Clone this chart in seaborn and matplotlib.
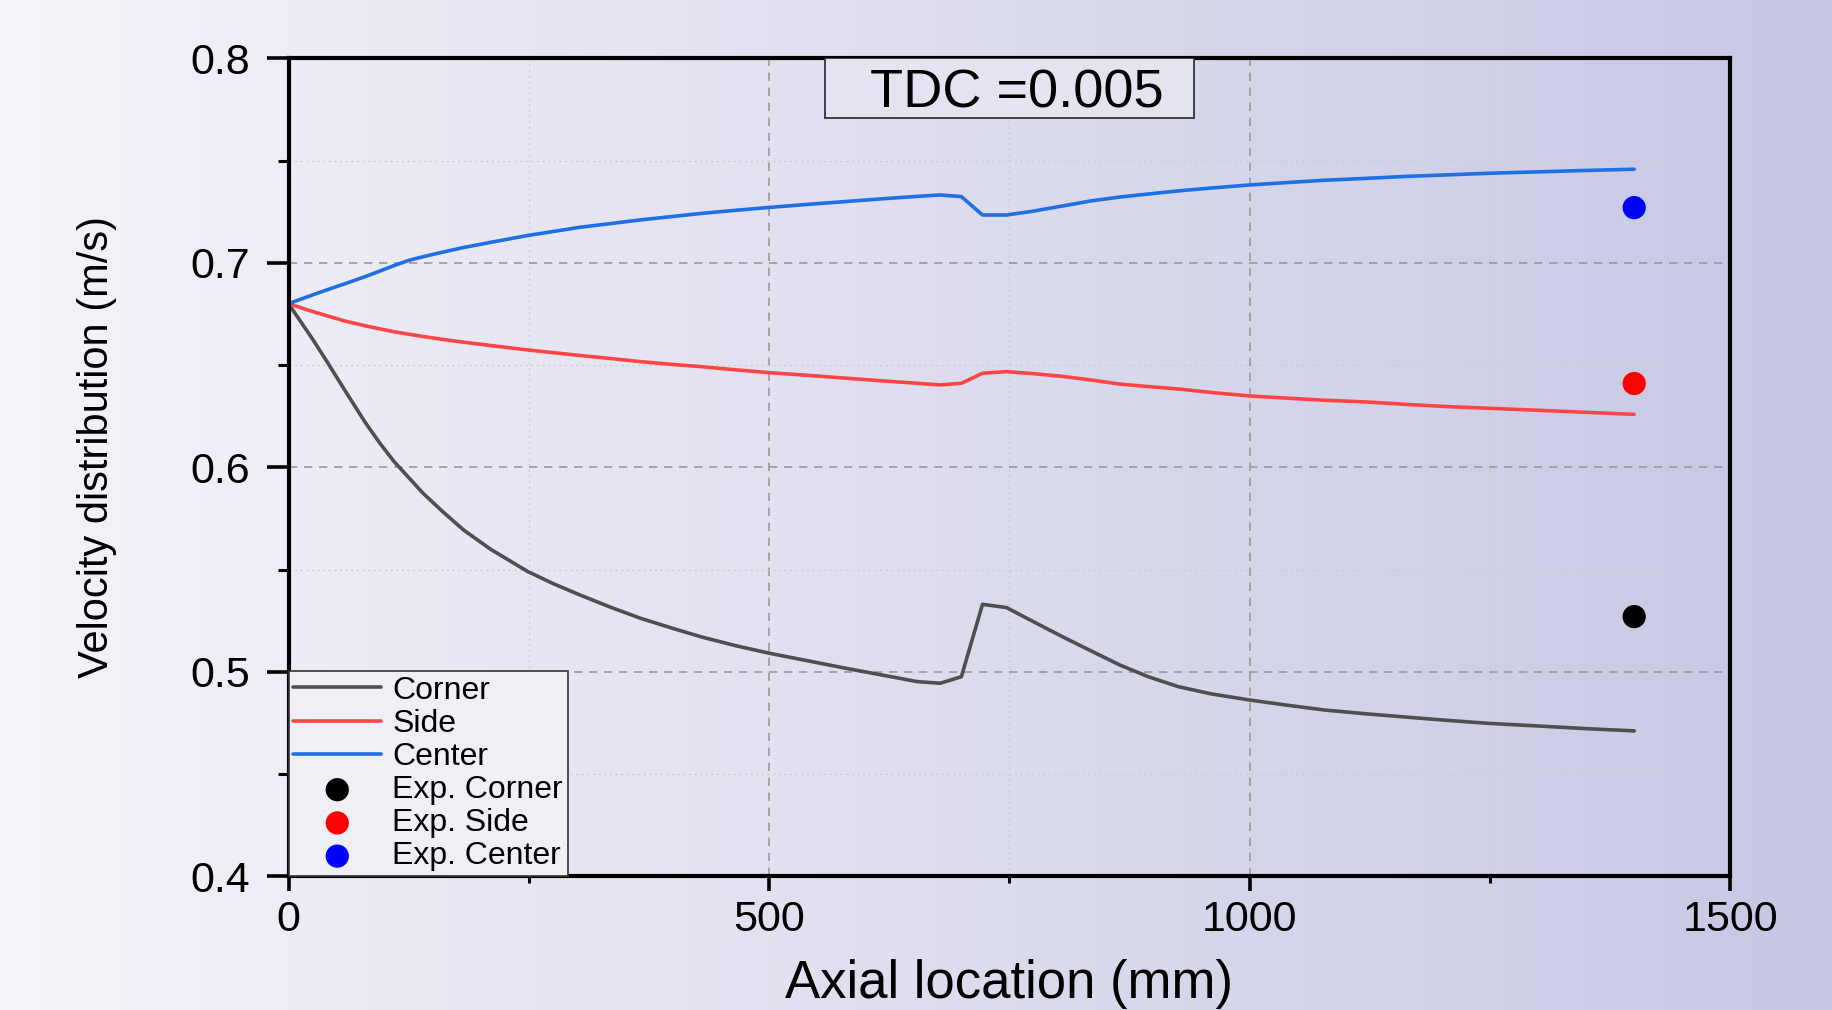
import numpy as np
import pandas as pd
import seaborn as sns
import matplotlib.pyplot as plt
from matplotlib.ticker import MultipleLocator, FormatStrFormatter
from matplotlib.patches import Rectangle

# simulated velocity along the duct
axial_mm = [0, 12, 25, 40, 60, 80, 95, 110, 125, 140, 160, 182, 210, 249, 275, 303,
            335, 366, 400, 430, 465, 500, 540, 580, 620, 654, 678, 700, 722, 747,
            775, 805, 835, 865, 895, 926, 960, 1000, 1040, 1078, 1120, 1169, 1210,
            1248, 1300, 1350, 1400]
corner = [0.6800, 0.6717, 0.6627, 0.6517, 0.6366, 0.6218, 0.6118, 0.6027, 0.5950,
          0.5873, 0.5785, 0.5694, 0.5600, 0.5490, 0.5432, 0.5376, 0.5316, 0.5262,
          0.5212, 0.5170, 0.5128, 0.5091, 0.5054, 0.5017, 0.4982, 0.4952, 0.4944,
          0.4976, 0.5330, 0.5314, 0.5245, 0.5172, 0.5102, 0.5033, 0.4975, 0.4927,
          0.4892, 0.4862, 0.4836, 0.4813, 0.4795, 0.4776, 0.4761, 0.4748, 0.4735,
          0.4722, 0.4711]
side = [0.6800, 0.6782, 0.6762, 0.6741, 0.6714, 0.6692, 0.6677, 0.6663, 0.6651,
        0.6640, 0.6626, 0.6612, 0.6596, 0.6574, 0.6561, 0.6547, 0.6532, 0.6517,
        0.6503, 0.6492, 0.6477, 0.6463, 0.6450, 0.6436, 0.6422, 0.6411, 0.6403,
        0.6411, 0.6460, 0.6468, 0.6458, 0.6445, 0.6427, 0.6407, 0.6395, 0.6383,
        0.6366, 0.6349, 0.6338, 0.6328, 0.6320, 0.6306, 0.6296, 0.6289, 0.6279,
        0.6269, 0.6259]
center = [0.6800, 0.6821, 0.6843, 0.6868, 0.6900, 0.6933, 0.6960, 0.6987, 0.7012,
          0.7030, 0.7052, 0.7075, 0.7100, 0.7134, 0.7153, 0.7174, 0.7192, 0.7210,
          0.7227, 0.7242, 0.7257, 0.7271, 0.7286, 0.7300, 0.7314, 0.7325, 0.7332,
          0.7324, 0.7234, 0.7234, 0.7253, 0.7278, 0.7303, 0.7322, 0.7337, 0.7352,
          0.7366, 0.7381, 0.7393, 0.7404, 0.7413, 0.7424, 0.7431, 0.7438, 0.7445,
          0.7452, 0.7458]

# experimental points
exp_labels = ['Exp. Corner', 'Exp. Side', 'Exp. Center']
exp_x = [1400, 1400, 1400]
exp_v = [0.527, 0.641, 0.727]

sim_labels = ['Corner', 'Side', 'Center']
sim_colors = ['#4f4f4f', '#ff4545', '#1f6fe5']
exp_colors = ['#000000', '#ff0000', '#0000ff']

sns.set_style('ticks')
plt.rcParams['font.family'] = ['Liberation Sans', 'DejaVu Sans']
plt.rcParams['text.color'] = 'black'
plt.rcParams['axes.labelcolor'] = 'black'
plt.rcParams['xtick.color'] = 'black'
plt.rcParams['ytick.color'] = 'black'

fig = plt.figure(figsize=(18.32, 10.1), dpi=100)

# soft horizontal gradient behind everything
bg = fig.add_axes([0, 0, 1, 1], zorder=-10)
t = np.linspace(0, 1, 512)
c_left = np.array([244, 244, 250]) / 255
c_right = np.array([199, 199, 228]) / 255
grad = c_left[None, None, :] * (1 - t)[None, :, None] + c_right[None, None, :] * t[None, :, None]
bg.imshow(grad, aspect='auto', extent=[0, 1, 0, 1])
bg.axis('off')

ax = fig.add_axes([0.1575, 0.1324, 0.787, 0.8098])
ax.set_facecolor('none')

for name, vals, col in zip(sim_labels, [corner, side, center], sim_colors):
    sns.lineplot(x=axial_mm, y=vals, color=col, lw=2.6, label=name, ax=ax)
for name, x, v, col in zip(exp_labels, exp_x, exp_v, exp_colors):
    sns.scatterplot(x=[x], y=[v], color=col, s=280, edgecolor='none', label=name, ax=ax, zorder=4)

ax.set_xlim(0, 1500)
ax.set_ylim(0.4, 0.8)
ax.xaxis.set_major_locator(MultipleLocator(500))
ax.xaxis.set_minor_locator(MultipleLocator(250))
ax.yaxis.set_major_locator(MultipleLocator(0.1))
ax.yaxis.set_minor_locator(MultipleLocator(0.05))
ax.yaxis.set_major_formatter(FormatStrFormatter('%.1f'))

ax.tick_params(axis='x', which='major', length=10.8, width=2.6, pad=6, labelsize=31)
ax.tick_params(axis='x', which='minor', length=5, width=2.2)
ax.tick_params(axis='y', which='major', length=15.8, width=2.6, pad=12, labelsize=31)
ax.tick_params(axis='y', which='minor', length=7.6, width=2.2)

ax.grid(which='major', color='#999999', ls=(0, (5, 4)), lw=1.2)
ax.grid(which='minor', color='#cacaca', ls=(0, (1.5, 3)), lw=0.9)
for s in ax.spines.values():
    s.set_linewidth(3)
    s.set_color('black')

ax.set_xlabel('Axial location (mm)', fontsize=38)
ax.xaxis.set_label_coords(0.5, -0.101)
ax.set_ylabel('Velocity distribution (m/s)', fontsize=30)
ax.yaxis.set_label_coords(-0.119, 0.525)

# TDC label box
ax.add_patch(Rectangle((0.372, 0.927), 0.256, 0.073, transform=ax.transAxes,
                       fc='#e4e4f0', ec='#333333', lw=1.3, zorder=5))
ax.text(0.505, 0.9405, 'TDC =0.005', transform=ax.transAxes, ha='center',
        va='baseline', fontsize=39, zorder=6)

leg = ax.legend(loc='lower left', bbox_to_anchor=(0, 0), borderaxespad=0, fontsize=23,
                frameon=True, fancybox=False, edgecolor='#333333', facecolor='#efeff6',
                framealpha=1, handlelength=2.75, handletextpad=0.35, labelspacing=0.1,
                borderpad=0.15, scatterpoints=1)
leg.get_frame().set_linewidth(1.2)

plt.savefig('out.png', dpi=100)
